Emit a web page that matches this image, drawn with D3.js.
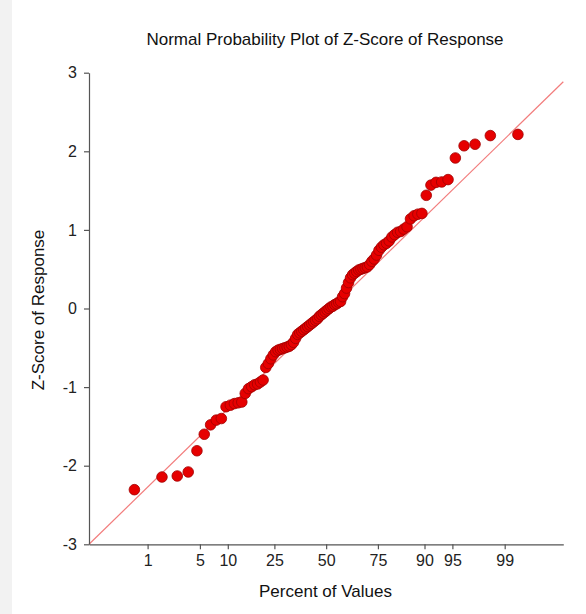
<!DOCTYPE html>
<html>
<head>
<meta charset="utf-8">
<script src="https://cdn.jsdelivr.net/npm/d3@7"></script>
<style>
  body { margin: 0; background: #fff; }
  svg { display: block; font-family: "Liberation Sans", Arial, sans-serif; }
  .axis path, .axis line { stroke: #555; stroke-width: 1.2; }
  .axis text { fill: #222; }
</style>
</head>
<body>
<div id="chart"></div>
<script>
// sorted Z-scores, rank 1..100
var zScores = [
  -2.305, -2.144, -2.131, -2.08, -1.81, -1.60, -1.48, -1.42, -1.40, -1.25,
  -1.23, -1.21, -1.20, -1.19, -1.08, -1.02, -0.995, -0.97, -0.96, -0.935,
  -0.91, -0.75, -0.70, -0.64, -0.59, -0.55, -0.53, -0.52, -0.51, -0.50,
  -0.49, -0.48, -0.46, -0.43, -0.38, -0.33, -0.31, -0.29, -0.27, -0.25,
  -0.23, -0.21, -0.19, -0.17, -0.15, -0.13, -0.10, -0.08, -0.06, -0.04,
  -0.02, 0.00, 0.02, 0.03, 0.05, 0.06, 0.08, 0.09, 0.15, 0.19,
  0.26, 0.33, 0.39, 0.43, 0.45, 0.47, 0.49, 0.50, 0.51, 0.52,
  0.53, 0.56, 0.60, 0.63, 0.68, 0.74, 0.78, 0.81, 0.83, 0.86,
  0.91, 0.94, 0.97, 0.98, 1.01, 1.04, 1.14, 1.18, 1.20, 1.21,
  1.44, 1.57, 1.605, 1.61, 1.64, 1.915, 2.07, 2.09, 2.20, 2.215
];

// x axis tick labels (percent of values)
var pctTicks = [1, 5, 10, 25, 50, 75, 90, 95, 99];
var yTicks = [-3, -2, -1, 0, 1, 2, 3];

// reference line end points (normal quantile, z-score)
var refX = [-3.09, 3.09];
var refY = [-3, 2.885];

var svgWidth = 586;
var svgHeight = 614;
var margin = {top: 72.7, right: 22.7, bottom: 69.7, left: 89};
var width = svgWidth - margin.left - margin.right;
var height = svgHeight - margin.top - margin.bottom;

// inverse normal cdf (Acklam)
function qnorm(p) {
  var a = [-3.969683028665376e+01, 2.209460984245205e+02, -2.759285104469687e+02, 1.383577518672690e+02, -3.066479806614716e+01, 2.506628277459239e+00];
  var b = [-5.447609879822406e+01, 1.615858368580409e+02, -1.556989798598866e+02, 6.680131188771972e+01, -1.328068155288572e+01];
  var c = [-7.784894002430293e-03, -3.223964580411365e-01, -2.400758277161838e+00, -2.549732539343734e+00, 4.374664141464968e+00, 2.938163982698783e+00];
  var d = [7.784695709041462e-03, 3.224671290700398e-01, 2.445134137142996e+00, 3.754408661907416e+00];
  var q, r;
  if (p < 0.02425) {
    q = Math.sqrt(-2 * Math.log(p));
    return (((((c[0]*q+c[1])*q+c[2])*q+c[3])*q+c[4])*q+c[5]) / ((((d[0]*q+d[1])*q+d[2])*q+d[3])*q+1);
  } else if (p > 1 - 0.02425) {
    q = Math.sqrt(-2 * Math.log(1 - p));
    return -(((((c[0]*q+c[1])*q+c[2])*q+c[3])*q+c[4])*q+c[5]) / ((((d[0]*q+d[1])*q+d[2])*q+d[3])*q+1);
  }
  q = p - 0.5;
  r = q * q;
  return (((((a[0]*r+a[1])*r+a[2])*r+a[3])*r+a[4])*r+a[5])*q / (((((b[0]*r+b[1])*r+b[2])*r+b[3])*r+b[4])*r+1);
}

var n = zScores.length;
// Blom plotting positions
var points = zScores.map(function(v, i) {
  return {q: qnorm((i + 1 - 0.375) / (n + 0.25)), z: v};
});

var svg = d3.select("#chart")
  .append("svg")
  .attr("width", svgWidth)
  .attr("height", svgHeight);

svg.append("rect")
  .attr("width", 12)
  .attr("height", svgHeight)
  .attr("fill", "#f2f2f2");

var chart = svg.append("g")
  .attr("transform", `translate(${margin.left}, ${margin.top})`);

var xScale = d3.scaleLinear()
  .domain([-3.09, 3.09])
  .range([0, width]);

var yScale = d3.scaleLinear()
  .domain([-3, 3])
  .range([height, 0]);

// reference line
chart.append("line")
  .attr("x1", xScale(refX[0]))
  .attr("y1", yScale(refY[0]))
  .attr("x2", xScale(refX[1]))
  .attr("y2", yScale(refY[1]))
  .attr("stroke", "#f27c7c")
  .attr("stroke-width", 1.2);

// axes
var bottomAxis = d3.axisBottom(xScale)
  .tickValues(pctTicks.map(function(p) { return qnorm(p / 100); }))
  .tickFormat(function(d, i) { return pctTicks[i]; })
  .tickSize(5)
  .tickPadding(5)
  .tickSizeOuter(0);

var leftAxis = d3.axisLeft(yScale)
  .tickValues(yTicks)
  .tickFormat(function(d) { return String(d); })
  .tickSize(5)
  .tickPadding(7)
  .tickSizeOuter(0);

chart.append("g")
  .attr("class", "axis")
  .attr("transform", `translate(0, ${height})`)
  .call(bottomAxis)
  .selectAll("text")
  .style("font-size", "16px");

chart.append("g")
  .attr("class", "axis")
  .call(leftAxis)
  .selectAll("text")
  .style("font-size", "16px");

// points
chart.selectAll("circle")
  .data(points)
  .enter()
  .append("circle")
  .attr("cx", d => xScale(d.q))
  .attr("cy", d => yScale(d.z))
  .attr("r", 5.3)
  .attr("fill", "#e60000")
  .attr("stroke", "#a00000")
  .attr("stroke-width", 0.8);

// title
svg.append("text")
  .attr("x", 325)
  .attr("y", 45)
  .attr("text-anchor", "middle")
  .style("font-size", "17px")
  .attr("fill", "#111")
  .text("Normal Probability Plot of Z-Score of Response");

// x axis label
svg.append("text")
  .attr("x", 325.5)
  .attr("y", 597)
  .attr("text-anchor", "middle")
  .style("font-size", "17px")
  .attr("fill", "#111")
  .text("Percent of Values");

// y axis label
svg.append("text")
  .attr("transform", "translate(44, 310) rotate(-90)")
  .attr("text-anchor", "middle")
  .style("font-size", "17px")
  .attr("fill", "#111")
  .text("Z-Score of Response");
</script>
</body>
</html>
